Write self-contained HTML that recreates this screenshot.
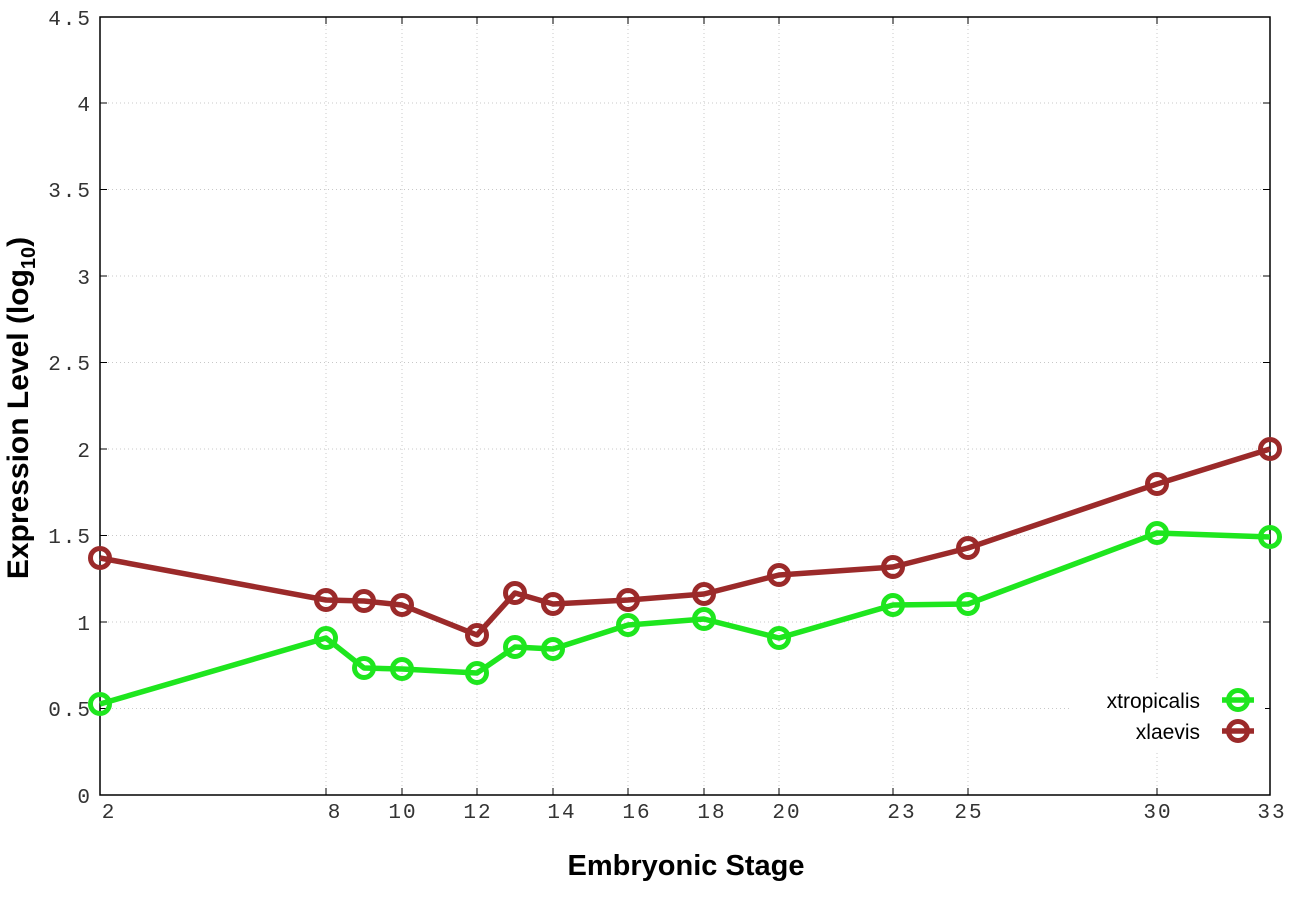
<!DOCTYPE html>
<html><head><meta charset="utf-8"><style>body{margin:0;background:#fff}</style></head><body>
<svg width="1296" height="907" viewBox="0 0 1296 907" xmlns="http://www.w3.org/2000/svg">
<rect width="1296" height="907" fill="#fff"/>
<g stroke="#c8c8c8" stroke-width="1" stroke-dasharray="1,3">
<line x1="100" y1="708.5" x2="1270" y2="708.5"/><line x1="100" y1="622" x2="1270" y2="622"/><line x1="100" y1="535.5" x2="1270" y2="535.5"/><line x1="100" y1="449" x2="1270" y2="449"/><line x1="100" y1="362.5" x2="1270" y2="362.5"/><line x1="100" y1="276" x2="1270" y2="276"/><line x1="100" y1="189.5" x2="1270" y2="189.5"/><line x1="100" y1="103" x2="1270" y2="103"/>
<line x1="326" y1="17" x2="326" y2="795"/><line x1="402" y1="17" x2="402" y2="795"/><line x1="477" y1="17" x2="477" y2="795"/><line x1="553" y1="17" x2="553" y2="795"/><line x1="628" y1="17" x2="628" y2="795"/><line x1="704" y1="17" x2="704" y2="795"/><line x1="779" y1="17" x2="779" y2="795"/><line x1="893" y1="17" x2="893" y2="795"/><line x1="968" y1="17" x2="968" y2="795"/><line x1="1157" y1="17" x2="1157" y2="795"/>
</g>
<rect x="100" y="17" width="1170" height="778" fill="none" stroke="#000" stroke-width="1.5"/>
<g stroke="#000" stroke-width="1">
<path d="M100 708.5h7M100 622h7M100 535.5h7M100 449h7M100 362.5h7M100 276h7M100 189.5h7M100 103h7M1270 708.5h-7M1270 622h-7M1270 535.5h-7M1270 449h-7M1270 362.5h-7M1270 276h-7M1270 189.5h-7M1270 103h-7"/>
<path d="M326 795v-7M402 795v-7M477 795v-7M553 795v-7M628 795v-7M704 795v-7M779 795v-7M893 795v-7M968 795v-7M1157 795v-7M326 17v7M402 17v7M477 17v7M553 17v7M628 17v7M704 17v7M779 17v7M893 17v7M968 17v7M1157 17v7"/>
</g>
<g font-family="Liberation Mono, monospace" font-size="21" fill="#333" letter-spacing="2" text-anchor="end">
<text x="92" y="803">0</text><text x="92" y="716">0.5</text><text x="92" y="630">1</text><text x="92" y="543">1.5</text><text x="92" y="457">2</text><text x="92" y="370">2.5</text><text x="92" y="284">3</text><text x="92" y="197">3.5</text><text x="92" y="111">4</text><text x="92" y="25">4.5</text>
</g>
<g font-family="Liberation Mono, monospace" font-size="21" fill="#333" letter-spacing="2" text-anchor="middle">
<text x="109" y="818">2</text><text x="335" y="818">8</text><text x="403" y="818">10</text><text x="478" y="818">12</text><text x="562" y="818">14</text><text x="637" y="818">16</text><text x="712" y="818">18</text><text x="787" y="818">20</text><text x="902" y="818">23</text><text x="969" y="818">25</text><text x="1158" y="818">30</text><text x="1272" y="818">33</text>
</g>
<text x="686" y="875" font-family="Liberation Sans, sans-serif" font-weight="bold" font-size="29" text-anchor="middle">Embryonic Stage</text>
<text transform="translate(28,408) rotate(-90)" font-family="Liberation Sans, sans-serif" font-weight="bold" font-size="30" text-anchor="middle">Expression Level (log<tspan font-size="20" dy="7">10</tspan><tspan dy="-7">)</tspan></text>
<g fill="none" stroke-width="5.5" stroke-linejoin="round">
<polyline stroke="#9b2a2a" points="100,558 326,600 364,601 402,605 477,635 515,593 553,604 628,600 704,594 779,575 893,567 968,548 1157,484 1270,449"/>
<polyline stroke="#1ee61e" points="100,704 326,638 364,668 402,669 477,673 515,647 553,649 628,625 704,619 779,638 893,605 968,604 1157,533 1270,537"/>
</g>
<g fill="none" stroke-width="5">
<g stroke="#9b2a2a">
<circle cx="100" cy="558" r="9.5"/><circle cx="326" cy="600" r="9.5"/><circle cx="364" cy="601" r="9.5"/><circle cx="402" cy="605" r="9.5"/><circle cx="477" cy="635" r="9.5"/><circle cx="515" cy="593" r="9.5"/><circle cx="553" cy="604" r="9.5"/><circle cx="628" cy="600" r="9.5"/><circle cx="704" cy="594" r="9.5"/><circle cx="779" cy="575" r="9.5"/><circle cx="893" cy="567" r="9.5"/><circle cx="968" cy="548" r="9.5"/><circle cx="1157" cy="484" r="9.5"/><circle cx="1270" cy="449" r="9.5"/>
</g>
<g stroke="#1ee61e">
<circle cx="100" cy="704" r="9.5"/><circle cx="326" cy="638" r="9.5"/><circle cx="364" cy="668" r="9.5"/><circle cx="402" cy="669" r="9.5"/><circle cx="477" cy="673" r="9.5"/><circle cx="515" cy="647" r="9.5"/><circle cx="553" cy="649" r="9.5"/><circle cx="628" cy="625" r="9.5"/><circle cx="704" cy="619" r="9.5"/><circle cx="779" cy="638" r="9.5"/><circle cx="893" cy="605" r="9.5"/><circle cx="968" cy="604" r="9.5"/><circle cx="1157" cy="533" r="9.5"/><circle cx="1270" cy="537" r="9.5"/>
</g>
</g>
<rect x="1070" y="680" width="195" height="70" fill="#fff"/>
<g font-family="Liberation Sans, sans-serif" font-size="21" fill="#000" text-anchor="end">
<text x="1200" y="708">xtropicalis</text><text x="1200" y="739">xlaevis</text>
</g>
<g stroke-width="5.5" fill="none">
<line x1="1222" y1="700" x2="1254" y2="700" stroke="#1ee61e"/><circle cx="1238" cy="700" r="9.5" stroke="#1ee61e" stroke-width="5"/>
<line x1="1222" y1="731" x2="1254" y2="731" stroke="#9b2a2a"/><circle cx="1238" cy="731" r="9.5" stroke="#9b2a2a" stroke-width="5"/>
</g>
</svg>
</body></html>
